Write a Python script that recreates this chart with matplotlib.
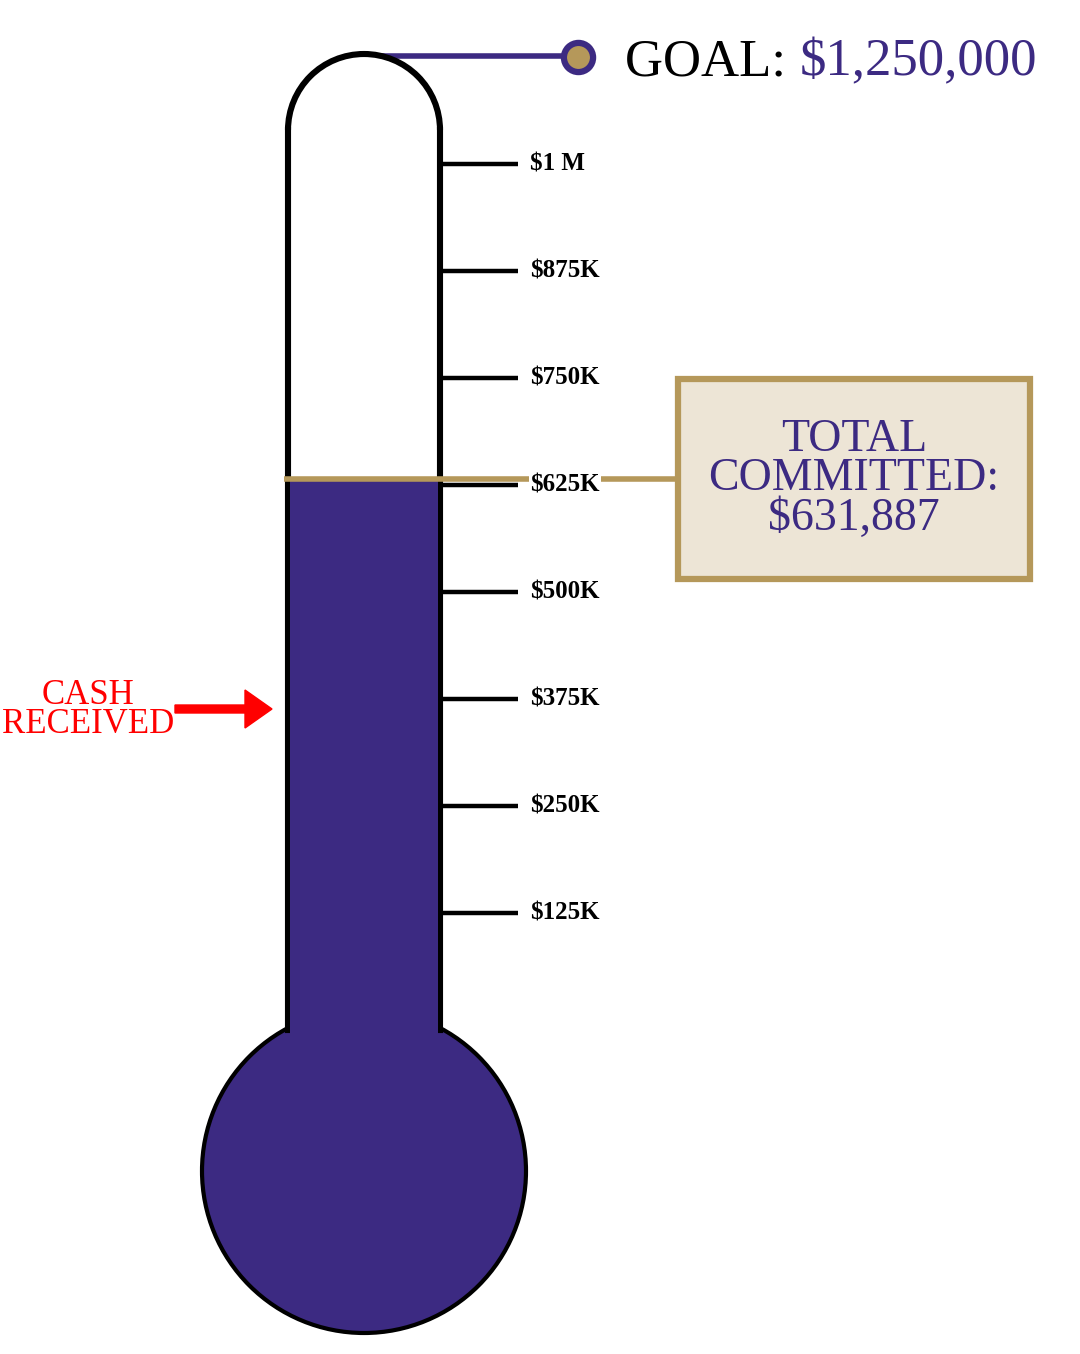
import matplotlib.pyplot as plt
from matplotlib.patches import Circle, Rectangle, Arc

# data
goal = 1250000
committed = 631887
tick_values = [125000, 250000, 375000, 500000, 625000, 750000, 875000, 1000000]
tick_labels = ["$125K", "$250K", "$375K", "$500K", "$625K", "$750K", "$875K", "$1 M"]

PURPLE = "#3c2a82"
GOLD = "#b5985a"
BEIGE = "#ede5d6"
SERIF = ["Liberation Serif", "DejaVu Serif"]

W, H = 1080, 1354
# dollar scale: pixel row of $0 and pixels per dollar
Y_ZERO = 1020.0
PX_PER_DOLLAR = 0.856 / 1000

def px_to_dollars(p):
    return (Y_ZERO - p) / PX_PER_DOLLAR

fig = plt.figure(figsize=(W / 100, H / 100), dpi=100)
ax = fig.add_axes([0, 0, 1, 1])
ax.set_xlim(0, W)
ax.set_ylim(H, 0)
ax.axis("off")

ax2 = ax.twinx()
ax2.set_ylim(px_to_dollars(H), px_to_dollars(0))
ax2.axis("off")

# thermometer geometry (pixels)
cx = 364
tube_l, tube_r = 288, 440
tube_top = 130
r_top = (tube_r - tube_l) / 2
bulb_y, bulb_r = 1171, 162
lw_tube = 4.4

# goal connector line + marker
ax.plot([cx, 578], [56, 56], color=PURPLE, lw=4, zorder=1, solid_capstyle="butt")
ax.plot([578], [57], marker="o", ms=21, mfc=GOLD, mec=PURPLE, mew=4.5, zorder=4)

# tube interior (white), outline
ax.add_patch(Rectangle((tube_l, tube_top), tube_r - tube_l, bulb_y - tube_top,
                       fc="white", ec="none", zorder=2))
ax.add_patch(Circle((cx, tube_top), r_top, fc="white", ec="none", zorder=2))
ax.add_patch(Arc((cx, tube_top), 2 * r_top, 2 * r_top, theta1=180, theta2=360,
                 color="black", lw=lw_tube, zorder=3))
ax.add_patch(Circle((cx, bulb_y), bulb_r, fc=PURPLE, ec="black", lw=3, zorder=3))
ax.plot([tube_l, tube_l], [tube_top, 1030], color="black", lw=lw_tube, zorder=3)
ax.plot([tube_r, tube_r], [tube_top, 1030], color="black", lw=lw_tube, zorder=3)

# mercury fill from bulb up to committed level
fill_bottom = px_to_dollars(bulb_y)
ax2.bar(cx, committed - fill_bottom, bottom=fill_bottom, width=tube_r - tube_l - 4,
        color=PURPLE, zorder=2)

# committed level line
ax2.hlines(committed, tube_l - 4, 678, color=GOLD, lw=4, zorder=3)

# scale ticks
ax2.hlines(tick_values, tube_r, 518, color="black", lw=3.2, zorder=4)
for v, lab in zip(tick_values, tick_labels):
    ax2.text(530, v, lab, fontsize=18, fontweight="bold", family=SERIF,
             va="center", ha="left", color="black", zorder=5,
             bbox=dict(fc="white", ec="none", pad=1))

# committed box
lvl_px = Y_ZERO - committed * PX_PER_DOLLAR
box_h = 200
ax.add_patch(Rectangle((678, lvl_px - box_h / 2), 352, box_h, fc=BEIGE, ec=GOLD,
                       lw=4.5, zorder=5))
ax.text(854, lvl_px, "TOTAL\nCOMMITTED:\n$631,887", fontsize=33, family=SERIF,
        color=PURPLE, ha="center", va="center", linespacing=0.9, zorder=6)

# goal text
t1 = ax.text(625, 57, "GOAL: ", fontsize=38, family=SERIF, color="black",
             ha="left", va="center_baseline", zorder=6)
ax.annotate("$1,250,000", xy=(1, 0), xycoords=t1, fontsize=38, family=SERIF,
            color=PURPLE, ha="left", va="bottom", zorder=6)

# cash received
ax.text(88, 710, "CASH\nRECEIVED", fontsize=25, family=SERIF, color="red",
        ha="center", va="center", linespacing=0.85, zorder=6)
ax.arrow(175, 709, 97, 0, width=8, head_width=38, head_length=27,
         length_includes_head=True, color="red", zorder=6)

fig.savefig("out.png", dpi=100)
